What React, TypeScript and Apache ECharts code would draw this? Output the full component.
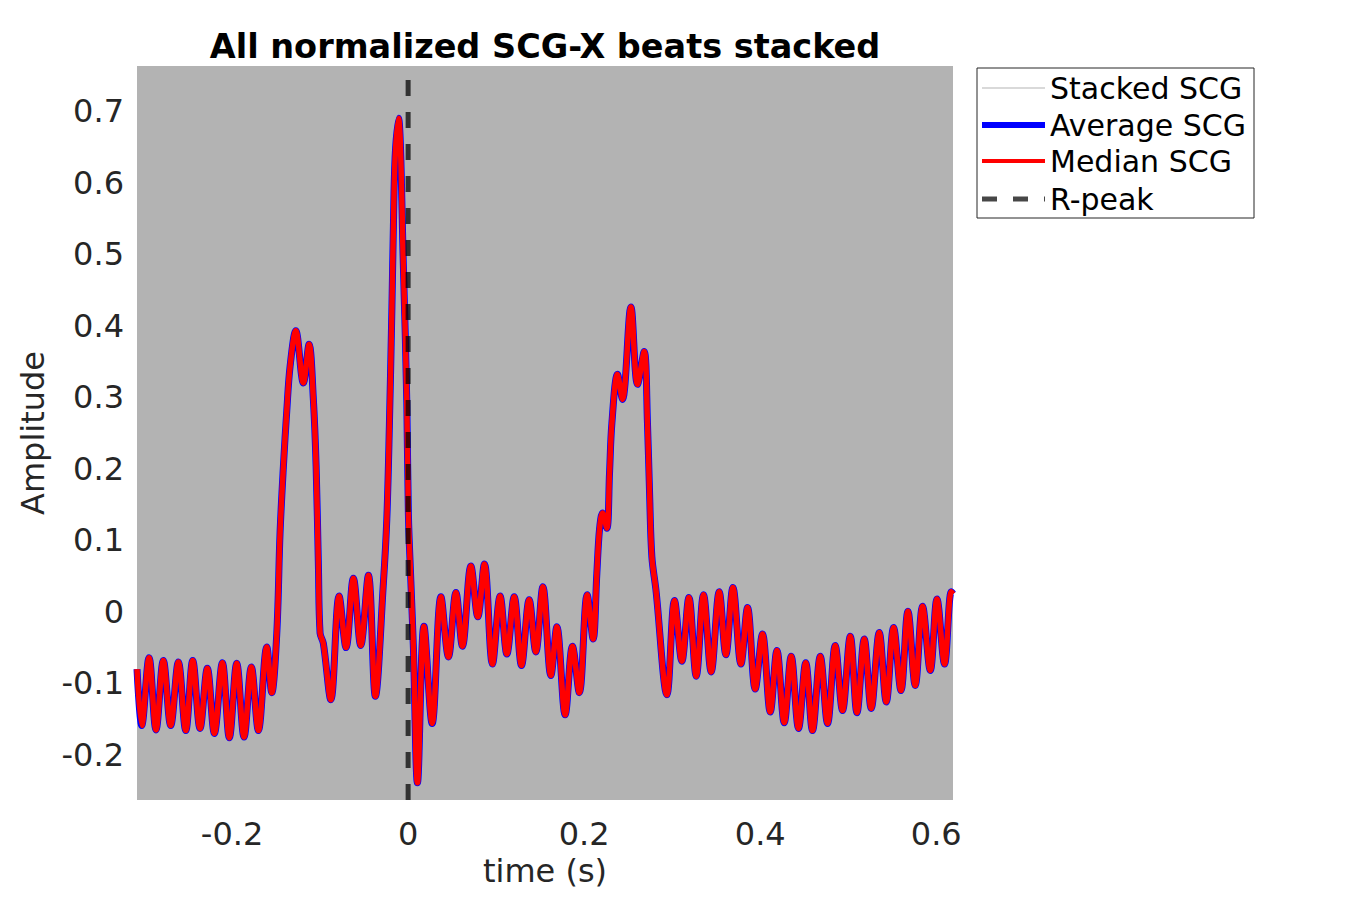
import { useRef, useEffect } from 'react';
import * as echarts from 'echarts';

// time (s) and amplitude of the median beat (extrema + slope points)
const timeS = [
    -0.3080, -0.3026, -0.2943, -0.2864, -0.2781, -0.2697, -0.2610, -0.2526, -0.2447, -0.2364,
    -0.2281, -0.2201, -0.2110, -0.2031, -0.1947, -0.1864, -0.1781, -0.1701, -0.1606, -0.1549,
    -0.1492, -0.1455, -0.1417, -0.1378, -0.1341, -0.1276, -0.1190, -0.1125, -0.1076, -0.1045,
    -0.1019, -0.1000, -0.0963, -0.0878, -0.0784, -0.0705, -0.0622, -0.0538, -0.0451, -0.0372,
    -0.0281, -0.0242, -0.0213, -0.0185, -0.0167, -0.0148, -0.0110, -0.0053, -0.0015, 0.0003,
    0.0031, 0.0060, 0.0106, 0.0180, 0.0273, 0.0373, 0.0458, 0.0543, 0.0617, 0.0713,
    0.0792, 0.0867, 0.0958, 0.1045, 0.1122, 0.1205, 0.1288, 0.1375, 0.1451, 0.1531,
    0.1622, 0.1690, 0.1784, 0.1867, 0.1945, 0.2034, 0.2102, 0.2144, 0.2174, 0.2208,
    0.2258, 0.2288, 0.2315, 0.2378, 0.2435, 0.2531, 0.2606, 0.2682, 0.2719, 0.2742,
    0.2769, 0.2815, 0.2940, 0.3026, 0.3110, 0.3190, 0.3273, 0.3356, 0.3443, 0.3534,
    0.3610, 0.3690, 0.3781, 0.3856, 0.3943, 0.4026, 0.4114, 0.4190, 0.4273, 0.4352,
    0.4435, 0.4517, 0.4594, 0.4682, 0.4765, 0.4852, 0.4935, 0.5023, 0.5099, 0.5182,
    0.5261, 0.5352, 0.5432, 0.5515, 0.5599, 0.5678, 0.5761, 0.5844, 0.5932, 0.6008,
    0.6094, 0.6170, 0.6193
];
const medianScg = [
    -0.080, -0.159, -0.064, -0.165, -0.068, -0.159, -0.070, -0.166, -0.068, -0.163,
    -0.079, -0.170, -0.071, -0.176, -0.072, -0.175, -0.077, -0.166, -0.049, -0.113,
    -0.030, 0.110, 0.203, 0.282, 0.343, 0.393, 0.320, 0.374, 0.296, 0.203,
    0.063, -0.030, -0.044, -0.123, 0.022, -0.050, 0.047, -0.047, 0.051, -0.118,
    0.040, 0.130, 0.260, 0.420, 0.540, 0.635, 0.690, 0.480, 0.293, 0.137,
    0.043, -0.050, -0.239, -0.020, -0.156, 0.021, -0.063, 0.027, -0.048, 0.064,
    -0.007, 0.067, -0.073, 0.022, -0.059, 0.021, -0.075, 0.017, -0.056, 0.035,
    -0.089, -0.021, -0.144, -0.048, -0.113, 0.024, -0.038, 0.054, 0.115, 0.138,
    0.117, 0.194, 0.264, 0.332, 0.297, 0.426, 0.318, 0.364, 0.264, 0.170,
    0.077, 0.031, -0.116, 0.016, -0.069, 0.020, -0.090, 0.024, -0.084, 0.028,
    -0.060, 0.034, -0.073, 0.006, -0.108, -0.031, -0.140, -0.054, -0.155, -0.062,
    -0.163, -0.071, -0.166, -0.062, -0.156, -0.047, -0.138, -0.034, -0.141, -0.038,
    -0.135, -0.029, -0.126, -0.022, -0.110, 0.001, -0.103, 0.008, -0.082, 0.018,
    -0.073, 0.028, 0.025
];
// the average beat sits under the median one within a pixel or two
const averageScg = medianScg;

const rPeakTime = 0;
const xTicks = [-0.2, 0, 0.2, 0.4, 0.6];
const yTicks = [-0.2, -0.1, 0, 0.1, 0.2, 0.3, 0.4, 0.5, 0.6, 0.7];
const legendNames = ['Stacked SCG', 'Average SCG', 'Median SCG', 'R-peak'];

const X_MIN = -0.308, X_MAX = 0.619;
const Y_MIN = -0.263, Y_MAX = 0.763;
const FONT = '"DejaVu Sans", sans-serif';

const fmt = (v: number) => String(Number(v.toFixed(2)));

const App = () => {
    const chartRef = useRef<HTMLDivElement>(null);

    useEffect(() => {
        if (!chartRef.current) return;
        const chart = echarts.init(chartRef.current, null, { renderer: 'svg' });

        const median = timeS.map((t, i) => [t, medianScg[i]]);
        const average = timeS.map((t, i) => [t, averageScg[i]]);
        const rows = [88, 125, 161, 199];
        const legendStyles = [
            { stroke: '#b3b3b3', lineWidth: 1 },
            { stroke: '#0000ff', lineWidth: 6 },
            { stroke: '#ff0000', lineWidth: 4 },
            { stroke: 'rgba(0,0,0,0.72)', lineWidth: 5, lineDash: [15, 16] }
        ];
        const legendGraphics: any[] = [
            {
                type: 'rect',
                shape: { x: 977, y: 68, width: 277, height: 150 },
                style: { fill: '#fff', stroke: '#262626', lineWidth: 1 }
            }
        ];
        legendNames.forEach((name, i) => {
            legendGraphics.push({
                type: 'line',
                shape: { x1: 982, y1: rows[i], x2: 1045, y2: rows[i] },
                style: { fill: 'none', ...legendStyles[i] }
            });
            legendGraphics.push({
                type: 'text',
                x: 1050,
                y: rows[i],
                style: {
                    text: name,
                    fill: '#000',
                    font: `30px ${FONT}`,
                    verticalAlign: 'middle',
                    align: 'left'
                }
            });
        });

        const options = {
            animation: false,
            backgroundColor: '#fff',
            title: {
                text: 'All normalized SCG-X beats stacked',
                left: 540,
                top: 24,
                textAlign: 'center',
                textStyle: { fontFamily: FONT, fontSize: 33.5, fontWeight: 'bold', color: '#000' }
            },
            grid: {
                left: 137,
                top: 66,
                width: 816,
                height: 734,
                show: true,
                backgroundColor: '#b3b3b3',
                borderWidth: 0
            },
            xAxis: {
                type: 'value',
                min: X_MIN,
                max: X_MAX,
                name: 'time (s)',
                nameLocation: 'middle',
                nameGap: 52,
                nameTextStyle: { fontFamily: FONT, fontSize: 32, color: '#262626' },
                axisLine: { show: false },
                axisTick: { show: false },
                splitLine: { show: false },
                axisLabel: {
                    customValues: xTicks,
                    formatter: fmt,
                    margin: 18,
                    fontFamily: FONT,
                    fontSize: 32,
                    color: '#262626'
                }
            },
            yAxis: {
                type: 'value',
                min: Y_MIN,
                max: Y_MAX,
                name: 'Amplitude',
                nameLocation: 'middle',
                nameGap: 88,
                nameTextStyle: { fontFamily: FONT, fontSize: 32, color: '#262626' },
                axisLine: { show: false },
                axisTick: { show: false },
                splitLine: { show: false },
                axisLabel: {
                    customValues: yTicks,
                    formatter: fmt,
                    margin: 13,
                    fontFamily: FONT,
                    fontSize: 32,
                    color: '#262626'
                }
            },
            series: [
                {
                    name: 'Average SCG',
                    type: 'line',
                    data: average,
                    showSymbol: false,
                    smooth: 0.35,
                    lineStyle: { color: '#0000ff', width: 7 },
                    z: 2
                },
                {
                    name: 'Median SCG',
                    type: 'line',
                    data: median,
                    showSymbol: false,
                    smooth: 0.35,
                    lineStyle: { color: '#ff0000', width: 5.5 },
                    z: 3
                },
                {
                    name: 'R-peak',
                    type: 'line',
                    data: [[rPeakTime, Y_MIN], [rPeakTime, Y_MAX]],
                    showSymbol: false,
                    lineStyle: { color: 'rgba(0,0,0,0.72)', width: 5, type: [16, 16] },
                    z: 4
                }
            ],
            graphic: legendGraphics
        };

        chart.setOption(options);

        return () => {
            chart.dispose();
        };
    }, []);

    return (
        <div ref={chartRef} style={{ position: 'fixed', left: 0, top: 0, width: 1350, height: 900 }}/>
    );
}

export default App;
